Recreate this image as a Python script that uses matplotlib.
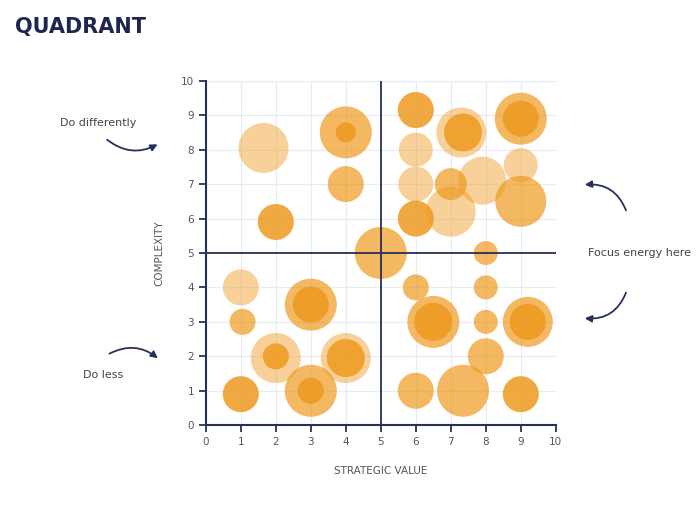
import matplotlib
matplotlib.use("Agg")
import matplotlib.pyplot as plt
from matplotlib.patches import FancyArrowPatch

light_x = [1.65, 6.0, 6.0, 7.0, 7.9, 9.0, 7.3, 1.0, 2.0, 4.0]
light_y = [8.05, 8.0, 7.0, 6.2, 7.1, 7.55, 8.5, 4.0, 1.95, 1.95]
light_d = [50, 34, 35, 50, 48, 34, 50, 36, 50, 50]
mid_x = [4.0, 4.0, 5.0, 9.0, 9.0, 7.0, 1.05, 3.0, 3.0, 6.0, 6.5, 8.0, 8.0, 8.0, 9.2, 8.0, 6.0, 7.35]
mid_y = [8.5, 7.0, 5.0, 8.9, 6.5, 7.0, 3.0, 3.5, 1.0, 4.0, 3.0, 5.0, 4.0, 3.0, 3.0, 2.0, 1.0, 1.0]
mid_d = [52, 36, 52, 52, 51, 32, 26, 52, 52, 26, 52, 24, 24, 24, 50, 36, 36, 52]
dark_x = [6.0, 9.0, 7.35, 4.0, 2.0, 6.0, 3.0, 2.0, 4.0, 3.0, 6.5, 9.2, 1.0, 9.0]
dark_y = [9.15, 8.9, 8.5, 8.5, 5.9, 6.0, 3.5, 2.0, 1.95, 1.0, 3.0, 3.0, 0.9, 0.9]
dark_d = [36, 36, 38, 20, 36, 36, 36, 26, 38, 26, 38, 36, 36, 36]
ticks = list(range(0, 11))

navy = "#27305a"
orange = "#EE9A1E"
fig = plt.figure(figsize=(7, 5.08), dpi=100)
ax = fig.add_axes([0.294, 0.163, 0.5, 0.678])
s = lambda d: [(v * 0.72) ** 2 for v in d]
ax.scatter(light_x, light_y, s=s(light_d), color=orange, alpha=0.45, lw=0, zorder=3)
ax.scatter(mid_x, mid_y, s=s(mid_d), color=orange, alpha=0.7, lw=0, zorder=4)
ax.scatter(dark_x, dark_y, s=s(dark_d), color=orange, alpha=0.85, lw=0, zorder=5)
ax.axvline(5, color=navy, lw=1.3, zorder=6)
ax.axhline(5, color=navy, lw=1.3, zorder=6)
ax.set_xlim(0, 10); ax.set_ylim(0, 10)
ax.set_xticks(ticks); ax.set_yticks(ticks)
ax.grid(color="#e6ecf5", lw=0.8, zorder=0)
for sp in ["top", "right"]:
    ax.spines[sp].set_visible(False)
for sp in ["left", "bottom"]:
    ax.spines[sp].set_color(navy); ax.spines[sp].set_linewidth(1.5)
ax.tick_params(colors=navy, labelcolor="#555555", labelsize=7.5, direction="out", length=5, width=1.3)
ax.set_xlabel("STRATEGIC VALUE", fontsize=7.5, color="#555555", labelpad=14)
ax.set_ylabel("COMPLEXITY", fontsize=7.5, color="#555555", labelpad=12)

fig.text(15/700, 1-27/508, "QUADRANT", fontsize=15, fontweight="bold", color="#1e2650", va="center")
for x, y, t in [(98, 123, "Do differently"), (103, 375, "Do less"), (640, 253, "Focus energy here")]:
    fig.text(x/700, 1-y/508, t, fontsize=8, color="#444444", ha="center", va="center")

def arr(p1, p2, rad):
    fig.patches.append(FancyArrowPatch((p1[0]/700, 1-p1[1]/508), (p2[0]/700, 1-p2[1]/508),
        transform=fig.transFigure, connectionstyle=f"arc3,rad={rad}", arrowstyle="-|>",
        mutation_scale=10, color=navy, lw=1.3))
arr((105, 138), (160, 143), 0.35)
arr((107, 355), (160, 360), -0.35)
arr((627, 213), (582, 185), 0.4)
arr((627, 290), (582, 318), -0.4)
fig.savefig("out.png")
